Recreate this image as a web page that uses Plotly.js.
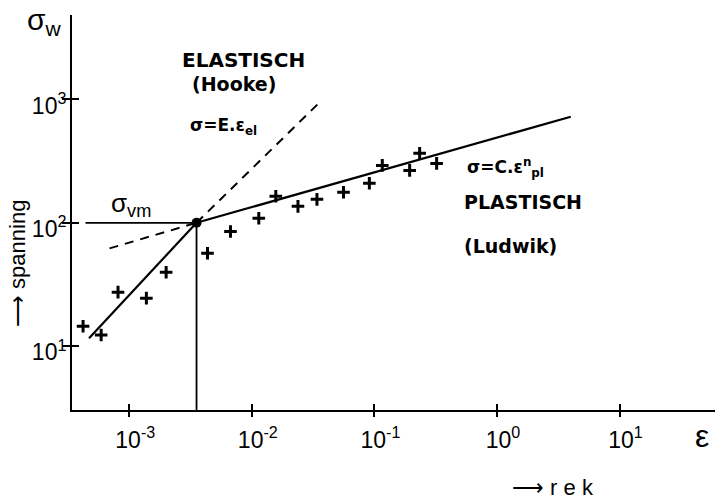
<!DOCTYPE html>
<html>
<head>
<meta charset="utf-8">
<script src="https://cdn.plot.ly/plotly-3.0.1.min.js"></script>
<style>html,body{margin:0;padding:0;background:#fff;}#chart{width:717px;height:500px;}</style>
</head>
<body>
<div id="chart"></div>
<script>
// measured points (strain, stress)
var strainPts = [4.2e-4, 5.9e-4, 8.1e-4, 1.38e-3, 2.0e-3, 4.35e-3, 6.7e-3, 1.14e-2, 1.57e-2, 2.38e-2, 3.4e-2, 5.6e-2, 9.1e-2, 0.116, 0.194, 0.234, 0.322];
var stressPts = [14.5, 12.3, 27.4, 24.5, 39.7, 56.6, 85, 109, 164, 136, 155, 177, 209, 292, 266, 366, 303];

// fitted lines
var elasticX = [4.7e-4, 3.54e-3];
var elasticY = [11.6, 100];
var elasticDashX = [3.54e-3, 3.7e-2];
var elasticDashY = [100, 980];
var plasticX = [3.54e-3, 4.0];
var plasticY = [100, 725];
var plasticDashX = [6.9e-4, 3.54e-3];
var plasticDashY = [62, 100];
var sigmaVmX = [4.4e-4, 3.54e-3];
var sigmaVmY = [100, 100];
var yieldX = [3.54e-3, 3.54e-3];
var yieldY = [3.0, 100];
var yieldPointX = [3.54e-3];
var yieldPointY = [100];

// ticks
var xTickVals = [1e-3, 1e-2, 1e-1, 1e0, 1e1];
var xTickText = ['10<sup>-3</sup>', '10<sup>-2</sup>', '10<sup>-1</sup>', '10<sup>0</sup>', '10<sup>1</sup>'];
var yTickVals = [1e1, 1e2, 1e3];
var yTickText = ['10<sup>1</sup>', '10<sup>2</sup>', '10<sup>3</sup>'];

var solid = {color: '#000', width: 2.2};
var dashed = {color: '#000', width: 2, dash: '9px,7px'};

var traces = [
  {x: elasticX, y: elasticY, mode: 'lines', line: solid, hoverinfo: 'skip'},
  {x: elasticDashX, y: elasticDashY, mode: 'lines', line: dashed, hoverinfo: 'skip'},
  {x: plasticX, y: plasticY, mode: 'lines', line: solid, hoverinfo: 'skip'},
  {x: plasticDashX, y: plasticDashY, mode: 'lines', line: dashed, hoverinfo: 'skip'},
  {x: sigmaVmX, y: sigmaVmY, mode: 'lines', line: {color: '#000', width: 1.8}, hoverinfo: 'skip'},
  {x: yieldX, y: yieldY, mode: 'lines', line: {color: '#000', width: 1.8}, hoverinfo: 'skip'},
  {x: strainPts, y: stressPts, mode: 'markers',
   marker: {symbol: 'cross-thin', size: 9, color: '#000', line: {color: '#000', width: 3}}},
  {x: yieldPointX, y: yieldPointY, mode: 'markers', xaxis: 'x2', yaxis: 'y2',
   marker: {symbol: 'circle', size: 10, color: '#000'}}
];

var fam = 'Liberation Sans, Arial, sans-serif';
var famB = 'DejaVu Sans, sans-serif';
var xr = [-3.467, 1.779];
var yr = [0.482, 3.685];

function px(p) { return (p - 72) / 643; }
function py(p) { return (410 - p) / 395; }
function ann(x, y, text, family, size, extra) {
  var a = {xref: 'paper', yref: 'paper', x: px(x), y: py(y), text: text, showarrow: false,
    xanchor: 'center', yanchor: 'middle', font: {family: family, size: size, color: '#000'}};
  for (var k in extra) a[k] = extra[k];
  return a;
}

var layout = {
  width: 717, height: 500,
  margin: {l: 72, r: 2, t: 15, b: 90},
  paper_bgcolor: '#fff', plot_bgcolor: '#fff',
  showlegend: false,
  xaxis: {type: 'log', range: xr, showline: true, linewidth: 2, linecolor: '#000',
    showgrid: false, zeroline: false, ticks: 'outside', ticklen: 5, tickwidth: 2, tickcolor: '#000',
    tickvals: xTickVals, ticktext: xTickText, tickfont: {family: fam, size: 23, color: '#000'},
    ticklabelshift: 6, ticklabelstandoff: 3},
  yaxis: {type: 'log', range: yr, showline: true, linewidth: 2, linecolor: '#000',
    showgrid: false, zeroline: false, ticks: 'outside', ticklen: 8, tickwidth: 2, tickcolor: '#000',
    tickvals: yTickVals, ticktext: yTickText, tickfont: {family: fam, size: 23, color: '#000'},
    ticklabelshift: 6, ticklabelstandoff: -9},
  xaxis2: {type: 'log', range: xr, overlaying: 'x', anchor: 'y', showline: false, showgrid: false,
    zeroline: false, ticks: 'inside', ticklen: 6, tickwidth: 2, tickcolor: '#000',
    tickvals: xTickVals, showticklabels: false},
  yaxis2: {type: 'log', range: yr, overlaying: 'y', anchor: 'x', showline: false, showgrid: false,
    zeroline: false, ticks: 'inside', ticklen: 7, tickwidth: 2, tickcolor: '#000',
    tickvals: yTickVals, showticklabels: false},
  annotations: [
    ann(44, 22, 'σ<sub>w</sub>', fam, 30),
    ann(243, 60, '<b>ELASTISCH</b>', famB, 20),
    ann(234, 84, '<b>(Hooke)</b>', famB, 19),
    ann(223, 126, '<b>σ=E.ε<sub>el</sub></b>', famB, 17),
    ann(131, 204, 'σ<sub>vm</sub>', fam, 26),
    ann(505, 168, '<b>σ=C.ε<sup>n</sup><sub>pl</sub></b>', famB, 17),
    ann(523, 202, '<b>PLASTISCH</b>', famB, 19),
    ann(510, 246, '<b>(Ludwik)</b>', famB, 19),
    ann(702, 436, 'ε', fam, 32),
    ann(553, 487, '⟶ r e k', fam, 22),
    ann(17, 264, '⟶ spanning', fam, 22, {textangle: -90})
  ]
};

Plotly.newPlot('chart', traces, layout, {displayModeBar: false, staticPlot: true});
</script>
</body>
</html>
